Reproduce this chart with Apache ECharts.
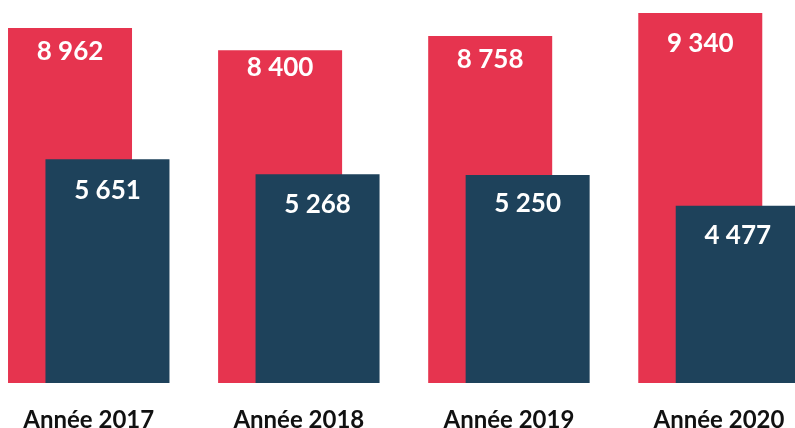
<!DOCTYPE html>
<html>
<head>
<meta charset="utf-8">
<script src="https://cdn.jsdelivr.net/npm/echarts@6/dist/echarts.min.js"></script>
<style>
html,body{margin:0;padding:0;background:#fff;}
#chart{width:795px;height:428px;}
</style>
</head>
<body>
<div id="chart"></div>
<script>
var categories = ['Année 2017', 'Année 2018', 'Année 2019', 'Année 2020'];
var seriesRed = [8962, 8400, 8758, 9340];
var seriesBlue = [5651, 5268, 5250, 4477];
// label shift below bar top (style)
var redLabelDist = [11, 4, 10, 18];
var blueLabelDist = [18, 17, 16, 17];

function fmt(v) {
  return String(v).replace(/\B(?=(\d{3})+(?!\d))/g, ' ');
}
function build(values, dists) {
  return values.map(function (v, i) {
    return { value: v, label: { distance: dists[i] } };
  });
}
var labelStyle = {
  show: true,
  position: 'insideTop',
  color: '#ffffff',
  fontFamily: 'Lato',
  fontWeight: 'bold',
  fontSize: 26,
  lineHeight: 26,
  formatter: function (p) { return fmt(p.value); }
};

var chart = echarts.init(document.getElementById('chart'), null, { renderer: 'canvas' });
chart.setOption({
  animation: false,
  backgroundColor: '#ffffff',
  grid: { left: 88.75, right: 76, top: 0, bottom: 45, containLabel: false, outerBoundsMode: 'none' },
  xAxis: {
    type: 'category',
    data: categories,
    boundaryGap: false,
    axisLine: { show: false },
    axisTick: { show: false },
    axisLabel: {
      color: '#111111',
      fontFamily: 'Lato',
      fontWeight: 'bold',
      fontSize: 24,
      margin: 25
    }
  },
  yAxis: {
    type: 'value',
    min: 0,
    max: 9670,
    show: false,
    splitLine: { show: false }
  },
  series: [
    {
      type: 'bar',
      clip: false,
      data: build(seriesRed, redLabelDist),
      barWidth: 124,
      barGap: '-69.8%',
      itemStyle: { color: '#E6344F' },
      label: labelStyle
    },
    {
      type: 'bar',
      clip: false,
      data: build(seriesBlue, blueLabelDist),
      barWidth: 124,
      barGap: '-69.8%',
      itemStyle: { color: '#1E425B' },
      label: labelStyle
    }
  ]
});
</script>
</body>
</html>
